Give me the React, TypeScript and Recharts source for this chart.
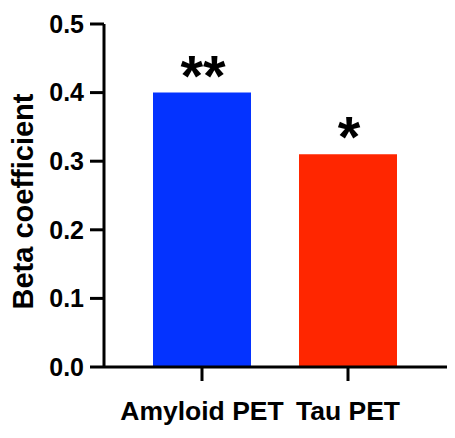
import React from 'react';
import { BarChart, Bar, XAxis, YAxis, Cell, LabelList } from 'recharts';

const categories = ['Amyloid PET', 'Tau PET'];
const betaValues = [0.4, 0.31];
const significance = ['**', '*'];
const barColors = ['#0433FF', '#FF2600'];
const yTicks = [0, 0.1, 0.2, 0.3, 0.4, 0.5];

const data = categories.map((name, i) => ({ name, beta: betaValues[i], sig: significance[i] }));

const FONT = 'Arial, "Liberation Sans", sans-serif';

const SigLabel = (props: any) => {
  const { x, y, width, value } = props;
  return (
    <text
      x={x + width / 2 + 1}
      y={y + 3}
      textAnchor="middle"
      fontFamily={FONT}
      fontWeight="bold"
      fontSize={58}
      fill="#000"
    >
      {value}
    </text>
  );
};

const YLabel = (props: any) => {
  const { viewBox } = props;
  const cy = viewBox.y + viewBox.height / 2 + 6;
  const cx = 23;
  return (
    <text
      x={cx}
      y={cy}
      transform={`rotate(-90, ${cx}, ${cy})`}
      textAnchor="middle"
      dominantBaseline="central"
      fontFamily={FONT}
      fontWeight="bold"
      fontSize={29}
      fill="#000"
    >
      Beta coefficient
    </text>
  );
};

export default function App() {
  return (
    <div style={{ position: 'absolute', left: 0, top: 0, background: '#fff' }}>
      <BarChart
        width={455}
        height={438}
        data={data}
        margin={{ top: 24, right: 8, bottom: 21, left: 0 }}
        barSize={98}
      >
        <XAxis
          dataKey="name"
          height={50}
          padding={{ left: 25, right: 26 }}
          axisLine={{ stroke: '#000', strokeWidth: 3 }}
          tickLine={{ stroke: '#000', strokeWidth: 3 }}
          tickSize={14}
          tickMargin={20}
          tick={{ fill: '#000', fontFamily: FONT, fontWeight: 'bold', fontSize: 26.5 }}
          interval={0}
        />
        <YAxis
          width={104}
          domain={[0, 0.5]}
          ticks={yTicks}
          tickFormatter={(v: number) => v.toFixed(1)}
          axisLine={{ stroke: '#000', strokeWidth: 3 }}
          tickLine={{ stroke: '#000', strokeWidth: 3 }}
          tickSize={14}
          tickMargin={6}
          tick={{ fill: '#000', fontFamily: FONT, fontWeight: 'bold', fontSize: 25 }}
          label={<YLabel />}
        />
        <Bar dataKey="beta" isAnimationActive={false}>
          {data.map((d, i) => (
            <Cell key={d.name} fill={barColors[i]} />
          ))}
          <LabelList dataKey="sig" content={<SigLabel />} />
        </Bar>
      </BarChart>
    </div>
  );
}
